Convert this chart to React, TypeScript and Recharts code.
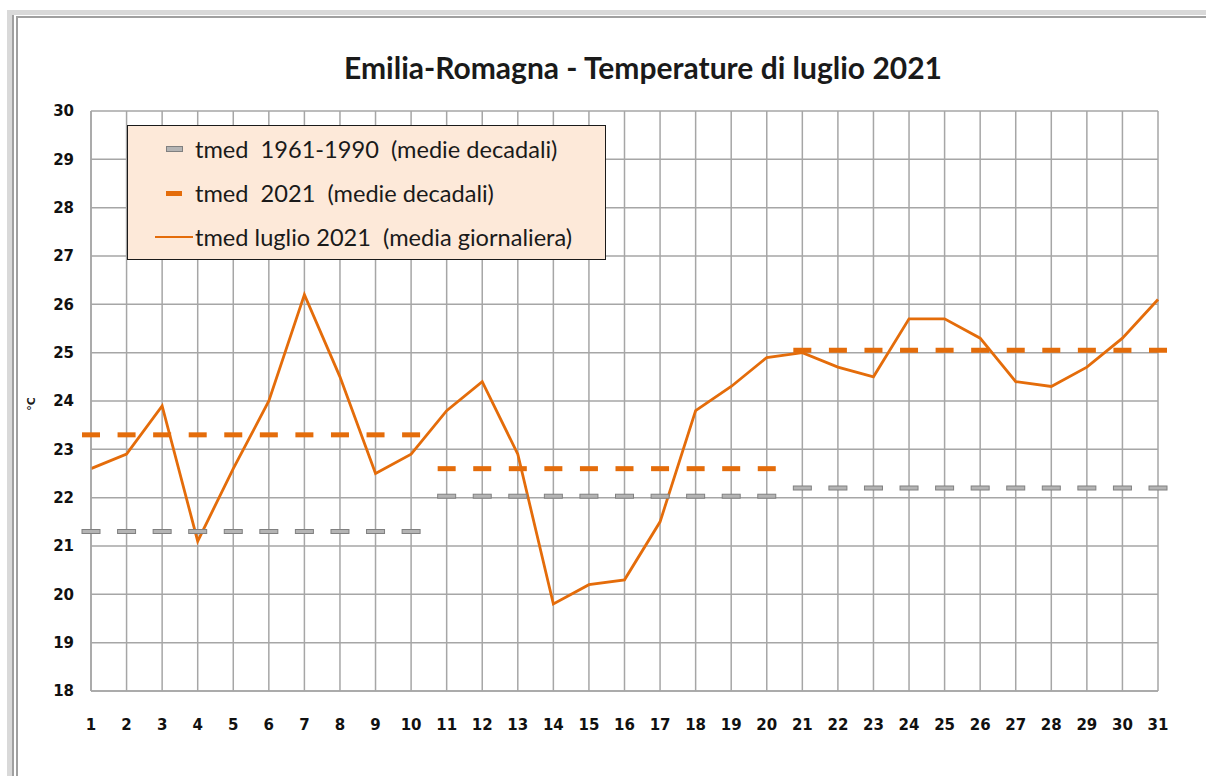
import React from "react";
import { LineChart, Line, XAxis, YAxis, CartesianGrid } from "recharts";

// Emilia-Romagna, luglio 2021: temperatura media giornaliera + medie decadali
const days = [
  1, 2, 3, 4, 5, 6, 7, 8, 9, 10, 11, 12, 13, 14, 15, 16, 17, 18, 19, 20, 21,
  22, 23, 24, 25, 26, 27, 28, 29, 30, 31,
];
const tmedDaily = [
  22.6, 22.9, 23.9, 21.1, 22.6, 24.0, 26.2, 24.5, 22.5, 22.9, 23.8, 24.4, 22.9,
  19.8, 20.2, 20.3, 21.5, 23.8, 24.3, 24.9, 25.0, 24.7, 24.5, 25.7, 25.7, 25.3,
  24.4, 24.3, 24.7, 25.3, 26.1,
];
// medie decadali: 1-10, 11-20, 21-31
const decadi2021 = [23.3, 22.6, 25.05];
const decadi6190 = [21.3, 22.03, 22.2];
const yTicks = [18, 19, 20, 21, 22, 23, 24, 25, 26, 27, 28, 29, 30];

const ORANGE = "#E46C0A";
const GRID = "#A6A6A6";

const decade = (d: number) => (d <= 10 ? 0 : d <= 20 ? 1 : 2);

const data = days.map((d, i) => ({
  day: d,
  tmed: tmedDaily[i],
  dec2021: decadi2021[decade(d)],
  dec6190: decadi6190[decade(d)],
}));

const orangeDash = (p: any) => (
  <rect
    key={`o-${p.index}`}
    x={p.cx - 9}
    y={p.cy - 2.5}
    width={18}
    height={5}
    fill={ORANGE}
  />
);

const grayDash = (p: any) => (
  <rect
    key={`g-${p.index}`}
    x={p.cx - 9}
    y={p.cy - 2}
    width={18}
    height={4}
    fill="#B4B4B4"
    stroke="#808080"
    strokeWidth={1}
  />
);

function LegendBox() {
  const row: React.CSSProperties = {
    position: "relative",
    height: 44,
    display: "flex",
    alignItems: "center",
  };
  const text: React.CSSProperties = {
    position: "absolute",
    left: 67,
    whiteSpace: "pre",
  };
  return (
    <div
      style={{
        position: "absolute",
        left: 127,
        top: 125,
        width: 477,
        height: 132,
        background: "#FDE9D9",
        border: "1.5px solid #1a1a1a",
        fontFamily: "Lato, sans-serif",
        fontSize: 23.6,
        color: "#1a1a1a",
        boxSizing: "content-box",
        paddingTop: 1,
      }}
    >
      <div style={row}>
        <span
          style={{
            position: "absolute",
            left: 38,
            width: 15,
            height: 4,
            background: "#B4B4B4",
            border: "1px solid #808080",
          }}
        />
        <span style={text}>tmed  1961-1990  (medie decadali)</span>
      </div>
      <div style={row}>
        <span
          style={{
            position: "absolute",
            left: 38,
            width: 16,
            height: 5,
            background: ORANGE,
          }}
        />
        <span style={text}>tmed  2021  (medie decadali)</span>
      </div>
      <div style={row}>
        <span
          style={{
            position: "absolute",
            left: 27,
            width: 38,
            height: 2.5,
            background: ORANGE,
          }}
        />
        <span style={text}>tmed luglio 2021  (media giornaliera)</span>
      </div>
    </div>
  );
}

export default function App() {
  return (
    <div
      style={{
        position: "absolute",
        left: 0,
        top: 0,
        width: 1206,
        height: 776,
        background: "#fff",
        overflow: "hidden",
      }}
    >
      {/* cornice */}
      <div style={{ position: "absolute", left: 7, top: 10, width: 1199, height: 5, background: "#D9D9D9" }} />
      <div style={{ position: "absolute", left: 7, top: 10, width: 5, height: 766, background: "#D9D9D9" }} />
      <div style={{ position: "absolute", left: 12, top: 15, width: 2, height: 761, background: "#A0A0A0" }} />
      <div style={{ position: "absolute", left: 16, top: 16, width: 2, height: 760, background: "#A0A0A0" }} />
      <div style={{ position: "absolute", left: 16, top: 16, width: 1190, height: 2, background: "#A0A0A0" }} />

      <div
        style={{
          position: "absolute",
          left: 80,
          width: 1126,
          top: 48,
          textAlign: "center",
          fontFamily: "Lato, sans-serif",
          fontWeight: 700,
          fontSize: 30,
          color: "#1a1a1a",
          lineHeight: "38px",
        }}
      >
        Emilia-Romagna - Temperature di luglio 2021
      </div>

      <div
        style={{
          position: "absolute",
          left: 31,
          top: 404,
          transform: "translate(-50%, -50%) rotate(-90deg)",
          fontFamily: "DejaVu Sans, sans-serif",
          fontWeight: 700,
          fontSize: 11,
          color: "#1a1a1a",
        }}
      >
        °C
      </div>

      <LineChart
        width={1206}
        height={776}
        data={data}
        margin={{ top: 111, right: 48, bottom: 45, left: 31 }}
      >
        <CartesianGrid stroke={GRID} strokeWidth={1.5} />
        <XAxis
          dataKey="day"
          type="number"
          domain={[1, 31]}
          ticks={days}
          interval={0}
          height={40}
          axisLine={{ stroke: GRID, strokeWidth: 1.5 }}
          tickLine={false}
          tickMargin={22}
          tick={{
            fill: "#111",
            fontSize: 15,
            fontWeight: 700,
            fontFamily: "DejaVu Sans, sans-serif",
          }}
        />
        <YAxis
          type="number"
          domain={[18, 30]}
          ticks={yTicks}
          interval={0}
          width={60}
          axisLine={{ stroke: GRID, strokeWidth: 1.5 }}
          tickLine={false}
          tickMargin={11}
          tick={{
            fill: "#111",
            fontSize: 15,
            fontWeight: 700,
            fontFamily: "DejaVu Sans, sans-serif",
          }}
        />
        <Line
          dataKey="dec6190"
          stroke="none"
          dot={grayDash}
          activeDot={false}
          isAnimationActive={false}
        />
        <Line
          dataKey="dec2021"
          stroke="none"
          dot={orangeDash}
          activeDot={false}
          isAnimationActive={false}
        />
        <Line
          dataKey="tmed"
          type="linear"
          stroke={ORANGE}
          strokeWidth={2.8}
          dot={false}
          activeDot={false}
          isAnimationActive={false}
        />
      </LineChart>

      <LegendBox />
    </div>
  );
}
